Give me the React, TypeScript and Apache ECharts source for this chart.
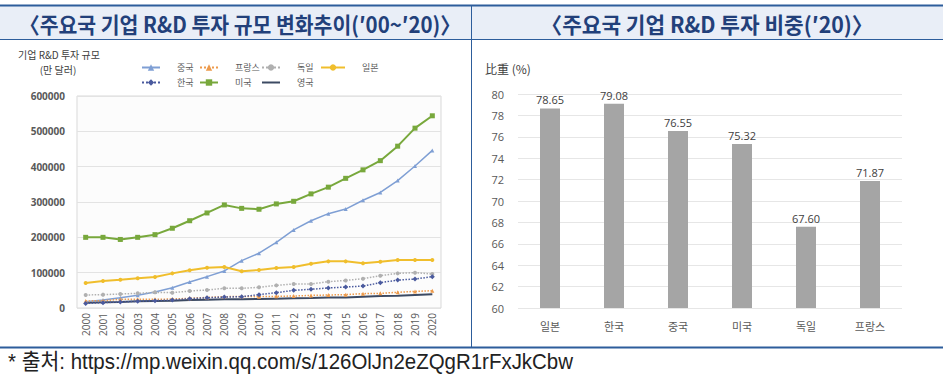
import React, { useEffect, useRef } from "react";
import * as echarts from "echarts";

const years = ["2000","2001","2002","2003","2004","2005","2006","2007","2008","2009","2010","2011","2012","2013","2014","2015","2016","2017","2018","2019","2020"];
const china = [18000,22700,29000,36000,45000,57500,73600,88700,104800,134000,155000,186000,221000,247000,267000,280000,305000,327000,360600,402000,446000];
const france = [19800,20700,24500,24500,24500,25500,27400,30000,32000,32800,32000,33000,34000,35600,36800,37800,40600,41500,44300,47000,49000];
const germany = [36800,37800,39600,41500,44300,43400,48000,51000,55700,55700,58500,64000,68000,68000,74500,78000,83000,91500,98000,100000,96000];
const japan = [70800,76500,80000,84000,87800,98000,106700,114000,116000,104000,107600,113000,116000,125500,132000,132000,126600,131000,136000,136000,136000];
const korea = [13000,15000,17000,19000,20800,22700,26400,29000,31000,32000,37800,43400,50000,53000,56700,59500,62000,71700,79000,82000,88700];
const usa = [200000,200000,194000,200000,207600,225700,247000,269000,291800,282000,279500,294600,302000,323000,342000,367000,391000,417000,458000,509000,544000];
const uk = [15000,16500,17000,19000,19800,20700,22600,23600,24500,24500,25500,26400,27400,28300,30000,30000,32000,34000,35000,36800,38700];

const shareCountries = ["일본","한국","중국","미국","독일","프랑스"];
const shareValues = [78.65,79.08,76.55,75.32,67.60,71.87];

const leftTitle = "〈주요국 기업 R&D 투자 규모 변화추이(′00~′20)〉";
const rightTitle = "〈주요국 기업 R&D 투자 비중(′20)〉";
const sourceText = "* 출처: https://mp.weixin.qq.com/s/126OlJn2eZQgR1rFxJkCbw";

export default function App() {
  const ref = useRef<HTMLDivElement>(null);
  useEffect(() => {
    if (!ref.current) return;
    const chart = echarts.init(ref.current, null, { renderer: "svg" });
    const blue = "#2d5d9b";
    const kfont = "'Noto Sans CJK KR', 'Noto Sans', sans-serif";
    const lineSeries = [
      { name: "중국", data: china, color: "#7f9fd4", type: "solid", symbol: "triangle", size: 4, width: 1.5 },
      { name: "프랑스", data: france, color: "#ed9a4b", type: "dotted", symbol: "triangle", size: 4, width: 1.5 },
      { name: "독일", data: germany, color: "#b0b0b0", type: "dotted", symbol: "circle", size: 4, width: 1.5 },
      { name: "일본", data: japan, color: "#f0be2c", type: "solid", symbol: "circle", size: 4, width: 2 },
      { name: "한국", data: korea, color: "#4a5a9e", type: "dotted", symbol: "diamond", size: 5, width: 1.5 },
      { name: "미국", data: usa, color: "#78a83c", type: "solid", symbol: "rect", size: 5, width: 2 },
      { name: "영국", data: uk, color: "#3c4a63", type: "solid", symbol: "none", size: 0, width: 2 },
    ];
    const legendPos: Record<string, [number, number]> = {
      "중국": [141, 63], "프랑스": [199, 63], "독일": [261, 63], "일본": [320, 63],
      "한국": [141, 78], "미국": [199, 78], "영국": [261, 78],
    };
    const legends = lineSeries.map((s) => ({
      data: [s.symbol === "none" ? { name: s.name, itemStyle: { opacity: 0 } } : s.name],
      left: legendPos[s.name][0],
      top: legendPos[s.name][1],
      padding: 0,
      itemWidth: s.name === "일본" ? 24 : 18,
      itemHeight: 8,
      selectedMode: false,
      textStyle: { fontSize: 9, color: "#595959", fontFamily: kfont, padding: [0, 0, 0, 12] },
    }));
    const option: any = {
      animation: false,
      backgroundColor: "#ffffff",
      legend: legends,
      grid: [
        { left: 77, right: 502, top: 96, bottom: 68, show: true, borderColor: "#d9d9d9", borderWidth: 1, backgroundColor: "#fcfcfc" },
        { left: 518, right: 41, top: 94, bottom: 68 },
      ],
      xAxis: [
        {
          gridIndex: 0, type: "category", data: years, boundaryGap: true,
          axisLine: { show: false }, axisTick: { show: false },
          axisLabel: { rotate: 90, fontSize: 10, color: "#595959", margin: 5, interval: 0, fontFamily: "'Open Sans', sans-serif" },
        },
        {
          gridIndex: 1, type: "category", data: shareCountries,
          axisLine: { show: false }, axisTick: { show: false },
          axisLabel: { fontSize: 11, color: "#595959", margin: 12, fontFamily: kfont },
        },
      ],
      yAxis: [
        {
          gridIndex: 0, type: "value", min: 0, max: 600000, interval: 100000,
          axisLine: { show: false }, axisTick: { show: false },
          splitLine: { lineStyle: { color: "#e3e3e3" } },
          axisLabel: {
            fontSize: 10, color: "#595959", margin: 12, fontWeight: "bold", fontFamily: "'Open Sans', sans-serif",
            formatter: (v: number) => String(v),
          },
        },
        {
          gridIndex: 1, type: "value", min: 60, max: 80, interval: 2,
          axisLine: { show: false }, axisTick: { show: false },
          splitLine: { lineStyle: { color: "#e6e6e6" } },
          axisLabel: { fontSize: 11, color: "#595959", margin: 14, fontFamily: "'Open Sans', sans-serif" },
        },
      ],
      series: [
        ...lineSeries.map((s) => ({
          name: s.name, type: "line", xAxisIndex: 0, yAxisIndex: 0, data: s.data,
          symbol: s.symbol, symbolSize: s.size, showSymbol: s.symbol !== "none",
          itemStyle: { color: s.color },
          lineStyle: { color: s.color, type: s.type, width: s.width },
          z: s.name === "영국" ? 1 : 3,
        })),
        {
          type: "bar", xAxisIndex: 1, yAxisIndex: 1, data: shareValues, barWidth: 20,
          itemStyle: { color: "#a5a5a5" },
          label: {
            show: true, position: "top", fontSize: 11, color: "#404040", distance: 3,
            fontFamily: "'Open Sans', sans-serif",
            formatter: (p: any) => Number(p.value).toFixed(2),
          },
        },
      ],
      graphic: [
        { type: "rect", shape: { x: 0, y: 6, width: 943, height: 33 }, style: { fill: "#e9eef7" }, z: 0 },
        { type: "line", shape: { x1: 0, y1: 5.5, x2: 943, y2: 5.5 }, style: { stroke: blue, lineWidth: 2 } },
        { type: "line", shape: { x1: 0, y1: 39.5, x2: 943, y2: 39.5 }, style: { stroke: blue, lineWidth: 1 } },
        { type: "line", shape: { x1: 471.5, y1: 5, x2: 471.5, y2: 347 }, style: { stroke: blue, lineWidth: 1 } },
        { type: "line", shape: { x1: 0, y1: 347.5, x2: 943, y2: 347.5 }, style: { stroke: blue, lineWidth: 2 } },
        {
          type: "text", x: 240, y: 23, scaleX: 0.93,
          style: { text: leftTitle, fill: "#22407a", fontSize: 22, fontWeight: "bold", fontFamily: kfont, align: "center", verticalAlign: "middle" },
        },
        {
          type: "text", x: 707, y: 23, scaleX: 0.97,
          style: { text: rightTitle, fill: "#22407a", fontSize: 22, fontWeight: "bold", fontFamily: kfont, align: "center", verticalAlign: "middle" },
        },
        {
          type: "text", x: 18, y: 54,
          style: { text: "기업 R&D 투자 규모", fill: "#404040", fontSize: 10, fontFamily: kfont, align: "left", verticalAlign: "middle" },
        },
        {
          type: "text", x: 58, y: 69,
          style: { text: "(만 달러)", fill: "#404040", fontSize: 10, fontFamily: kfont, align: "center", verticalAlign: "middle" },
        },
        {
          type: "text", x: 485, y: 68,
          style: { text: "比重 (%)", fill: "#404040", fontSize: 12, fontFamily: "'Noto Sans CJK KR', sans-serif", align: "left", verticalAlign: "middle" },
        },
        {
          type: "text", x: 8, y: 362, scaleX: 0.93,
          style: { text: sourceText, fill: "#222222", fontSize: 22, fontFamily: "'Liberation Sans', 'Noto Sans CJK KR', sans-serif", align: "left", verticalAlign: "middle" },
        },
      ],
    };
    chart.setOption(option);
    return () => chart.dispose();
  }, []);
  return <div ref={ref} style={{ position: "fixed", left: 0, top: 0, width: 943, height: 376 }} />;
}
